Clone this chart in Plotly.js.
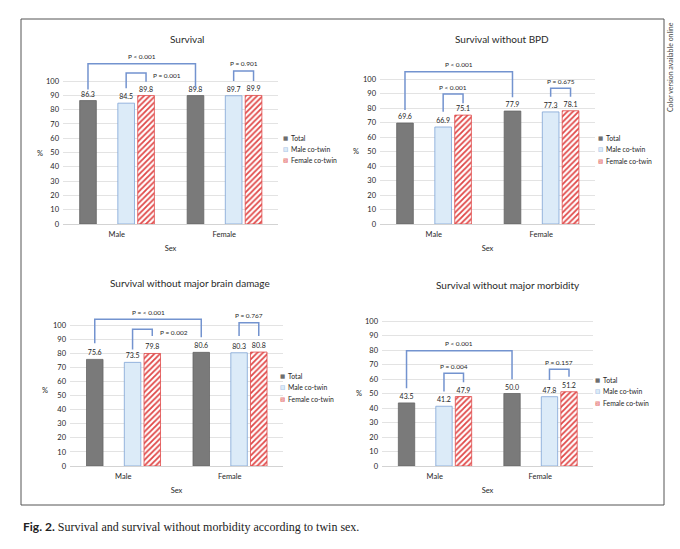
<!DOCTYPE html>
<html><head><meta charset="utf-8">
<script src="https://cdn.plot.ly/plotly-3.0.1.min.js"></script>
<style>html,body{margin:0;padding:0;background:#fff}#chart{width:680px;height:549px}</style>
</head><body><div id="chart"></div>
<script>
// ---------- data ----------
const categories = ['Male', 'Female'];
const panelTitles = ['Survival', 'Survival without BPD', 'Survival without major brain damage', 'Survival without major morbidity'];
const seriesNames = ['Total', 'Male co-twin', 'Female co-twin'];
const totalVals = [[86.3, 89.8], [69.6, 77.9], [75.6, 80.6], [43.5, 50.0]];
const maleCoTwinVals = [[84.5, 89.7], [66.9, 77.3], [73.5, 80.3], [41.2, 47.8]];
const femaleCoTwinVals = [[89.8, 89.9], [75.1, 78.1], [79.8, 80.8], [47.9, 51.2]];
const yTickVals = [0, 10, 20, 30, 40, 50, 60, 70, 80, 90, 100];
const pSexLabels = ['P < 0.001', 'P < 0.001', 'P = < 0.001', 'P < 0.001'];
const pMaleLabels = ['P = 0.001', 'P < 0.001', 'P = 0.002', 'P = 0.004'];
const pFemaleLabels = ['P = 0.901', 'P = 0.675', 'P = 0.767', 'P = 0.157'];
// bracket heights: [top, left leg end, right leg end] in %
const bracketSex = [[112, 94, 95], [105, 78.6, 87.4], [104, 87, 91.3], [79.5, 53.6, 59.8]];
const bracketMale = [[105.6, 95, 99.5], [89.6, 77.5, 83.2], [97, 82.7, 92.2], [63.9, 51.3, 57.7]];
const bracketFemale = [[107, 100, 100], [93.6, 87.8, 87.8], [101.6, 92.2, 92.2], [66.7, 59.3, 61.6]];
const maleLabelSide = ['right', 'above', 'right', 'above'];

// ---------- layout geometry (pixels) ----------
const W = 680, H = 549;
const px = v => v / W, py = v => 1 - v / H;
const panels = [
  {x: [63, 278], y: [224, 52.4], title: [187, 39], pct: [40, 153], leg: [285, 289, [138, 149.3, 160]]},
  {x: [380, 595], y: [224, 50], title: [502, 39], pct: [356, 152], leg: [600, 604, [138, 149.3, 161]]},
  {x: [70, 283], y: [466, 296.8], title: [190, 283], pct: [45, 390], leg: [282, 286, [376, 387.3, 398.7]]},
  {x: [382, 593], y: [466, 292], title: [508, 285], pct: [359, 393], leg: [597, 601, [380, 391, 402.5]]}
];
const FONT = 'Lato, "Liberation Sans", sans-serif';
const TXT = '#262626';
const BAR_W = 0.155;
const offsets = [-0.345, 0.01, 0.195];
const centers = offsets.map(o => o + BAR_W / 2);
const xIdx = categories.map((c, i) => i);
const esc = s => s.replace(/</g, '&lt;');

const styles = [
  {color: '#7a7a7a', line: {color: '#666666', width: 0.8}},
  {color: '#dcebf8', line: {color: '#7fa3d6', width: 0.8}},
  {color: '#ffffff', line: {color: '#e04848', width: 0.8},
   pattern: {shape: '/', fgcolor: '#e04848', bgcolor: '#ffffff', size: 4, solidity: 0.45}}
];
// legend swatch glyphs: [glyph, colour] layers per series
const swatches = [
  [['\u25A0', '#6e6e6e']],
  [['\u25A0', '#dcebf8'], ['\u25A1', '#7fa3d6']],
  [['\u25A8', '#e04848']]
];

const traces = [];
const annotations = [];
const layout = {
  width: W, height: H, margin: {l: 0, r: 0, t: 0, b: 0},
  paper_bgcolor: '#ffffff', plot_bgcolor: 'rgba(0,0,0,0)',
  font: {family: FONT, color: TXT, size: 7.5},
  barmode: 'overlay', showlegend: false,
  shapes: [{type: 'rect', xref: 'paper', yref: 'paper', x0: px(21), x1: px(664), y0: py(505), y1: py(19),
            line: {color: '#555555', width: 1}}],
  annotations: annotations
};
const paperNote = (x, y, text, font, extra) => Object.assign({xref: 'paper', yref: 'paper',
  x: px(x), y: py(y), text: text, showarrow: false, xanchor: 'center', yanchor: 'middle', font: font}, extra || {});

panels.forEach((p, k) => {
  const n = k === 0 ? '' : String(k + 1);
  const xa = 'x' + n, ya = 'y' + n;
  const data = [totalVals[k], maleCoTwinVals[k], femaleCoTwinVals[k]];
  data.forEach((vals, s) => {
    traces.push({
      type: 'bar', x: xIdx, y: vals, name: seriesNames[s], xaxis: xa, yaxis: ya,
      width: BAR_W, offset: offsets[s], marker: styles[s],
      text: vals.map(v => v.toFixed(1)), textposition: 'outside', constraintext: 'none',
      textfont: {size: 7, color: TXT, family: FONT}, cliponaxis: false, hoverinfo: 'skip'
    });
  });
  // brackets
  const addBracket = (xl, xr, b) => {
    traces.push({type: 'scatter', mode: 'lines', x: [xl, xl, xr, xr], y: [b[1], b[0], b[0], b[2]],
      xaxis: xa, yaxis: ya, hoverinfo: 'skip', cliponaxis: false,
      line: {color: '#7393cf', width: 1.5}});
  };
  addBracket(centers[0], 1 + centers[0], bracketSex[k]);
  addBracket(centers[1], centers[2], bracketMale[k]);
  addBracket(1 + centers[1], 1 + centers[2], bracketFemale[k]);
  const pfont = {size: 6.5, color: '#1f1f1f', family: FONT};
  annotations.push({xref: xa, yref: ya, x: (centers[0] + 1 + centers[0]) / 2, y: bracketSex[k][0],
    text: esc(pSexLabels[k]), showarrow: false, yshift: 7, font: pfont});
  if (maleLabelSide[k] === 'right') {
    annotations.push({xref: xa, yref: ya, x: centers[2] + 0.05, y: bracketMale[k][0], xanchor: 'left',
      text: esc(pMaleLabels[k]), showarrow: false, yshift: -3, font: pfont});
  } else {
    annotations.push({xref: xa, yref: ya, x: (centers[1] + centers[2]) / 2, y: bracketMale[k][0],
      text: esc(pMaleLabels[k]), showarrow: false, yshift: 7, font: pfont});
  }
  annotations.push({xref: xa, yref: ya, x: 1 + (centers[1] + centers[2]) / 2, y: bracketFemale[k][0],
    text: esc(pFemaleLabels[k]), showarrow: false, yshift: 7, font: pfont});
  // titles and % labels
  annotations.push(paperNote(p.title[0], p.title[1], panelTitles[k], {size: 10, color: '#2a2a2a', family: FONT}));
  annotations.push(paperNote(p.pct[0], p.pct[1], '%', {size: 7.5, color: TXT, family: FONT}));
  // legend (swatch glyphs + series names)
  seriesNames.forEach((name, s) => {
    const yy = p.leg[2][s];
    swatches[s].forEach(g => annotations.push(paperNote(p.leg[0], yy, g[0],
      {size: 5.5, color: g[1], family: '"DejaVu Sans", sans-serif'})));
    annotations.push(paperNote(p.leg[1], yy, name, {size: 6.8, color: TXT, family: FONT}, {xanchor: 'left'}));
  });

  layout['xaxis' + n] = {
    domain: [px(p.x[0]), px(p.x[1])], anchor: ya, range: [-0.5, 1.5],
    tickvals: xIdx, ticktext: categories, showgrid: false, zeroline: false,
    showline: true, linecolor: '#c8c8c8', linewidth: 0.8, ticks: '', ticklabelstandoff: 3,
    tickfont: {size: 7.5, color: TXT, family: FONT}, fixedrange: true,
    title: {text: 'Sex', standoff: 7, font: {size: 7.5, color: TXT, family: FONT}}
  };
  layout['yaxis' + n] = {
    domain: [py(p.y[0]), py(p.y[1])], anchor: xa, range: [0, 120],
    tickvals: yTickVals, showgrid: true, gridcolor: '#dcdcdc', gridwidth: 0.8,
    zeroline: false, showline: false, ticks: '', ticklabelstandoff: 3,
    tickfont: {size: 7.5, color: TXT, family: FONT}, fixedrange: true
  };
});

annotations.push(paperNote(670, 67, 'Color version available online',
  {size: 7, color: '#444444', family: FONT}, {textangle: -90}));
annotations.push(paperNote(21, 526,
  '<span style="font-family:Lato, sans-serif;font-weight:bold">Fig. 2.</span> Survival and survival without morbidity according to twin sex.',
  {size: 12, color: '#222222', family: '"Liberation Serif", "DejaVu Serif", serif'}, {xanchor: 'left'}));

Plotly.newPlot('chart', traces, layout, {displayModeBar: false, staticPlot: true});
</script></body></html>
